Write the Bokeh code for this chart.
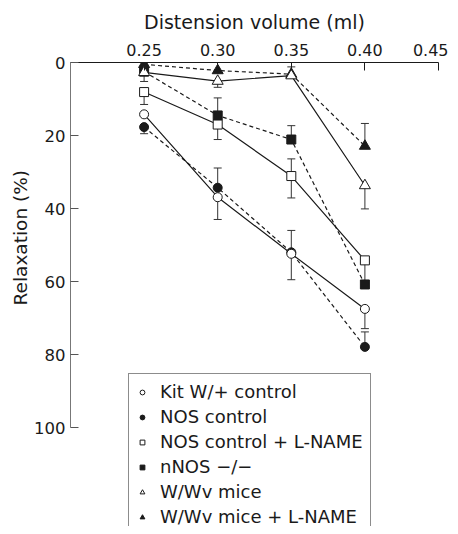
from bokeh.plotting import figure
from bokeh.models import Range1d, FixedTicker, NumeralTickFormatter, Legend, LegendItem, Title
from bokeh.embed import file_html
from bokeh.resources import INLINE

# ---- data ----
volume = [0.25, 0.30, 0.35, 0.40]
x_ticks = [0.25, 0.30, 0.35, 0.40, 0.45]
y_ticks = [0, 20, 40, 60, 80, 100]

labels = ["Kit W/+ control", "NOS control", "NOS control + L-NAME",
          "nNOS \u2212/\u2212", "W/Wv mice", "W/Wv mice + L-NAME"]

kit_y = [14.2, 36.9, 52.4, 67.5]
kit_top = [0, 0, 6.4, 0]
kit_bot = [0, 6.1, 7.1, 5.4]

nos_y = [17.7, 34.3, 52.0, 77.9]
nos_top = [0, 5.4, 0, 4.1]
nos_bot = [1.8, 0, 0, 0]

nosl_y = [8.1, 17.0, 31.1, 54.2]
nosl_top = [0, 0, 4.7, 0]
nosl_bot = [3.4, 4.1, 6.0, 6.0]

nnos_y = [2.5, 14.5, 21.1, 60.8]
nnos_top = [0, 4.8, 3.8, 0]
nnos_bot = [0, 0, 0, 0]

wwv_y = [2.7, 5.1, 3.6, 33.7]
wwv_top = [0, 0, 2.4, 0]
wwv_bot = [2.5, 1.7, 0, 6.4]

wwvl_y = [0.5, 2.2, 3.2, 22.9]
wwvl_top = [0, 0, 0, 6.2]
wwvl_bot = [0, 0, 0, 0]

# ---- styles ----
FONT = "DejaVu Sans"
INK = "#1a1a1a"
styles = [
    ("circle", "white", "solid", 9, 8),
    ("circle", INK, "4 3", 9, 8),
    ("square", "white", "solid", 9, 8),
    ("square", INK, "4 3", 9, 8),
    ("triangle", "white", "solid", 11, 11),
    ("triangle", INK, "4 3", 11, 10),
]
series = [
    (kit_y, kit_top, kit_bot),
    (nos_y, nos_top, nos_bot),
    (nosl_y, nosl_top, nosl_bot),
    (nnos_y, nnos_top, nnos_bot),
    (wwv_y, wwv_top, wwv_bot),
    (wwvl_y, wwvl_top, wwvl_bot),
]

p = figure(width=448, height=526, output_backend="svg", toolbar_location=None,
           x_range=Range1d(0.20, 0.45), y_range=Range1d(127.1, 0),
           x_axis_location="above", min_border_left=70, min_border_right=10,
           min_border_top=62, min_border_bottom=0)
p.outline_line_color = None
p.xgrid.grid_line_color = None
p.ygrid.grid_line_color = None
p.background_fill_color = "white"

# error bars
for (ys, tops, bots) in series:
    x0, y0, y1 = [], [], []
    for x, y, t, b in zip(volume, ys, tops, bots):
        if t > 0:
            x0.append(x); y0.append(y); y1.append(y - t)
        if b > 0:
            x0.append(x); y0.append(y); y1.append(y + b)
    if x0:
        p.segment(x0=x0, y0=y0, x1=x0, y1=y1, line_color="#333333", line_width=1)
        p.scatter(x=x0, y=y1, marker="dash", size=8, line_color="#333333", line_width=1)

# lines
for (ys, _, _), (mk, fill, dash, sz, lsz) in zip(series, styles):
    p.line(volume, ys, line_color=INK, line_width=1.2, line_dash=dash)

# markers: filled ones first, open ones on top
order = [1, 3, 5, 0, 2, 4]
for i in order:
    ys = series[i][0]
    mk, fill, dash, sz, lsz = styles[i]
    p.scatter(volume, ys, marker=mk, size=sz, fill_color=fill, line_color=INK, line_width=1)

# legend with small glyphs (dummy points placed outside the visible range)
items = []
for lab, (mk, fill, dash, sz, lsz) in zip(labels, styles):
    r = p.scatter(x=[-1.0], y=[-50.0], marker=mk, size=lsz, fill_color=fill,
                  line_color=INK, line_width=1)
    items.append(LegendItem(label=lab, renderers=[r]))
legend = Legend(items=items, location=(58, -9), orientation="vertical",
                label_text_font=FONT, label_text_font_size="18px", label_text_color=INK,
                label_height=20, glyph_height=20, glyph_width=12, spacing=4,
                label_standoff=12, padding=7, margin=0,
                border_line_color=INK, border_line_width=1,
                background_fill_color="white", background_fill_alpha=1)
p.add_layout(legend, "center")

# axes
xa = p.xaxis[0]
xa.ticker = FixedTicker(ticks=x_ticks)
xa.formatter = NumeralTickFormatter(format="0.00")
xa.bounds = (0.20, 0.45)
xa.axis_label = "Distension volume (ml)"
xa.axis_label_text_font = FONT
xa.axis_label_text_font_size = "19px"
xa.axis_label_text_font_style = "normal"
xa.axis_label_text_color = INK
xa.axis_label_standoff = 8
xa.major_label_text_font = FONT
xa.major_label_text_font_size = "16px"
xa.major_label_text_color = INK
xa.major_label_standoff = 7
xa.major_tick_in = 8
xa.major_tick_out = 0
xa.minor_tick_line_color = None
xa.axis_line_color = INK
xa.major_tick_line_color = INK

ya = p.yaxis[0]
ya.ticker = FixedTicker(ticks=y_ticks)
ya.bounds = (0, 100)
ya.axis_label = None
ya.major_label_text_font = FONT
ya.major_label_text_font_size = "16.5px"
ya.major_label_text_color = INK
ya.major_label_standoff = 5
ya.major_tick_in = 8
ya.major_tick_out = 0
ya.minor_tick_line_color = None
ya.axis_line_color = "#777777"
ya.major_tick_line_color = "#555555"

# y-axis title, positioned along the 0..100 part of the axis
ytitle = Title(text="Relaxation (%)", align="left", offset=221, standoff=2,
               text_font=FONT, text_font_size="18.5px", text_font_style="normal",
               text_color=INK)
p.add_layout(ytitle, "left")

open("out.html", "w").write(file_html(p, INLINE))
